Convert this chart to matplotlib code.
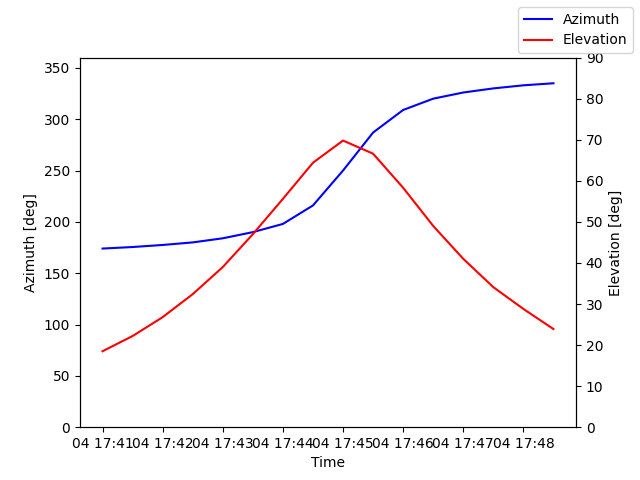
import matplotlib
matplotlib.use("Agg")
import matplotlib.pyplot as plt
import matplotlib.dates as mdates
import pandas as pd

times = pd.date_range("2024-01-04 17:41:00", periods=16, freq="30s")
azimuth = [174, 175.5, 177.5, 180, 184, 190, 198, 216, 250, 287, 309, 320, 326, 330, 333, 335]
elevation = [18.5, 22.2, 26.8, 32.4, 39, 47, 55.6, 64.4, 69.8, 66.6, 58.3, 49, 41, 34.1, 28.8, 23.9]

fig, ax = plt.subplots(figsize=(6.4, 4.8), dpi=100)
ax.plot(times, azimuth, color="blue", label="Azimuth")
ax.set_ylim(0, 360)
ax.set_ylabel("Azimuth [deg]")
ax.set_xlabel("Time")
ax2 = ax.twinx()
ax2.plot(times, elevation, color="red", label="Elevation")
ax2.set_ylim(0, 90)
ax2.set_ylabel("Elevation [deg]")
ax.xaxis.set_major_locator(mdates.MinuteLocator())
ax.xaxis.set_major_formatter(mdates.DateFormatter("%d %H:%M"))
fig.legend(loc="upper right")
fig.savefig("out.png")
